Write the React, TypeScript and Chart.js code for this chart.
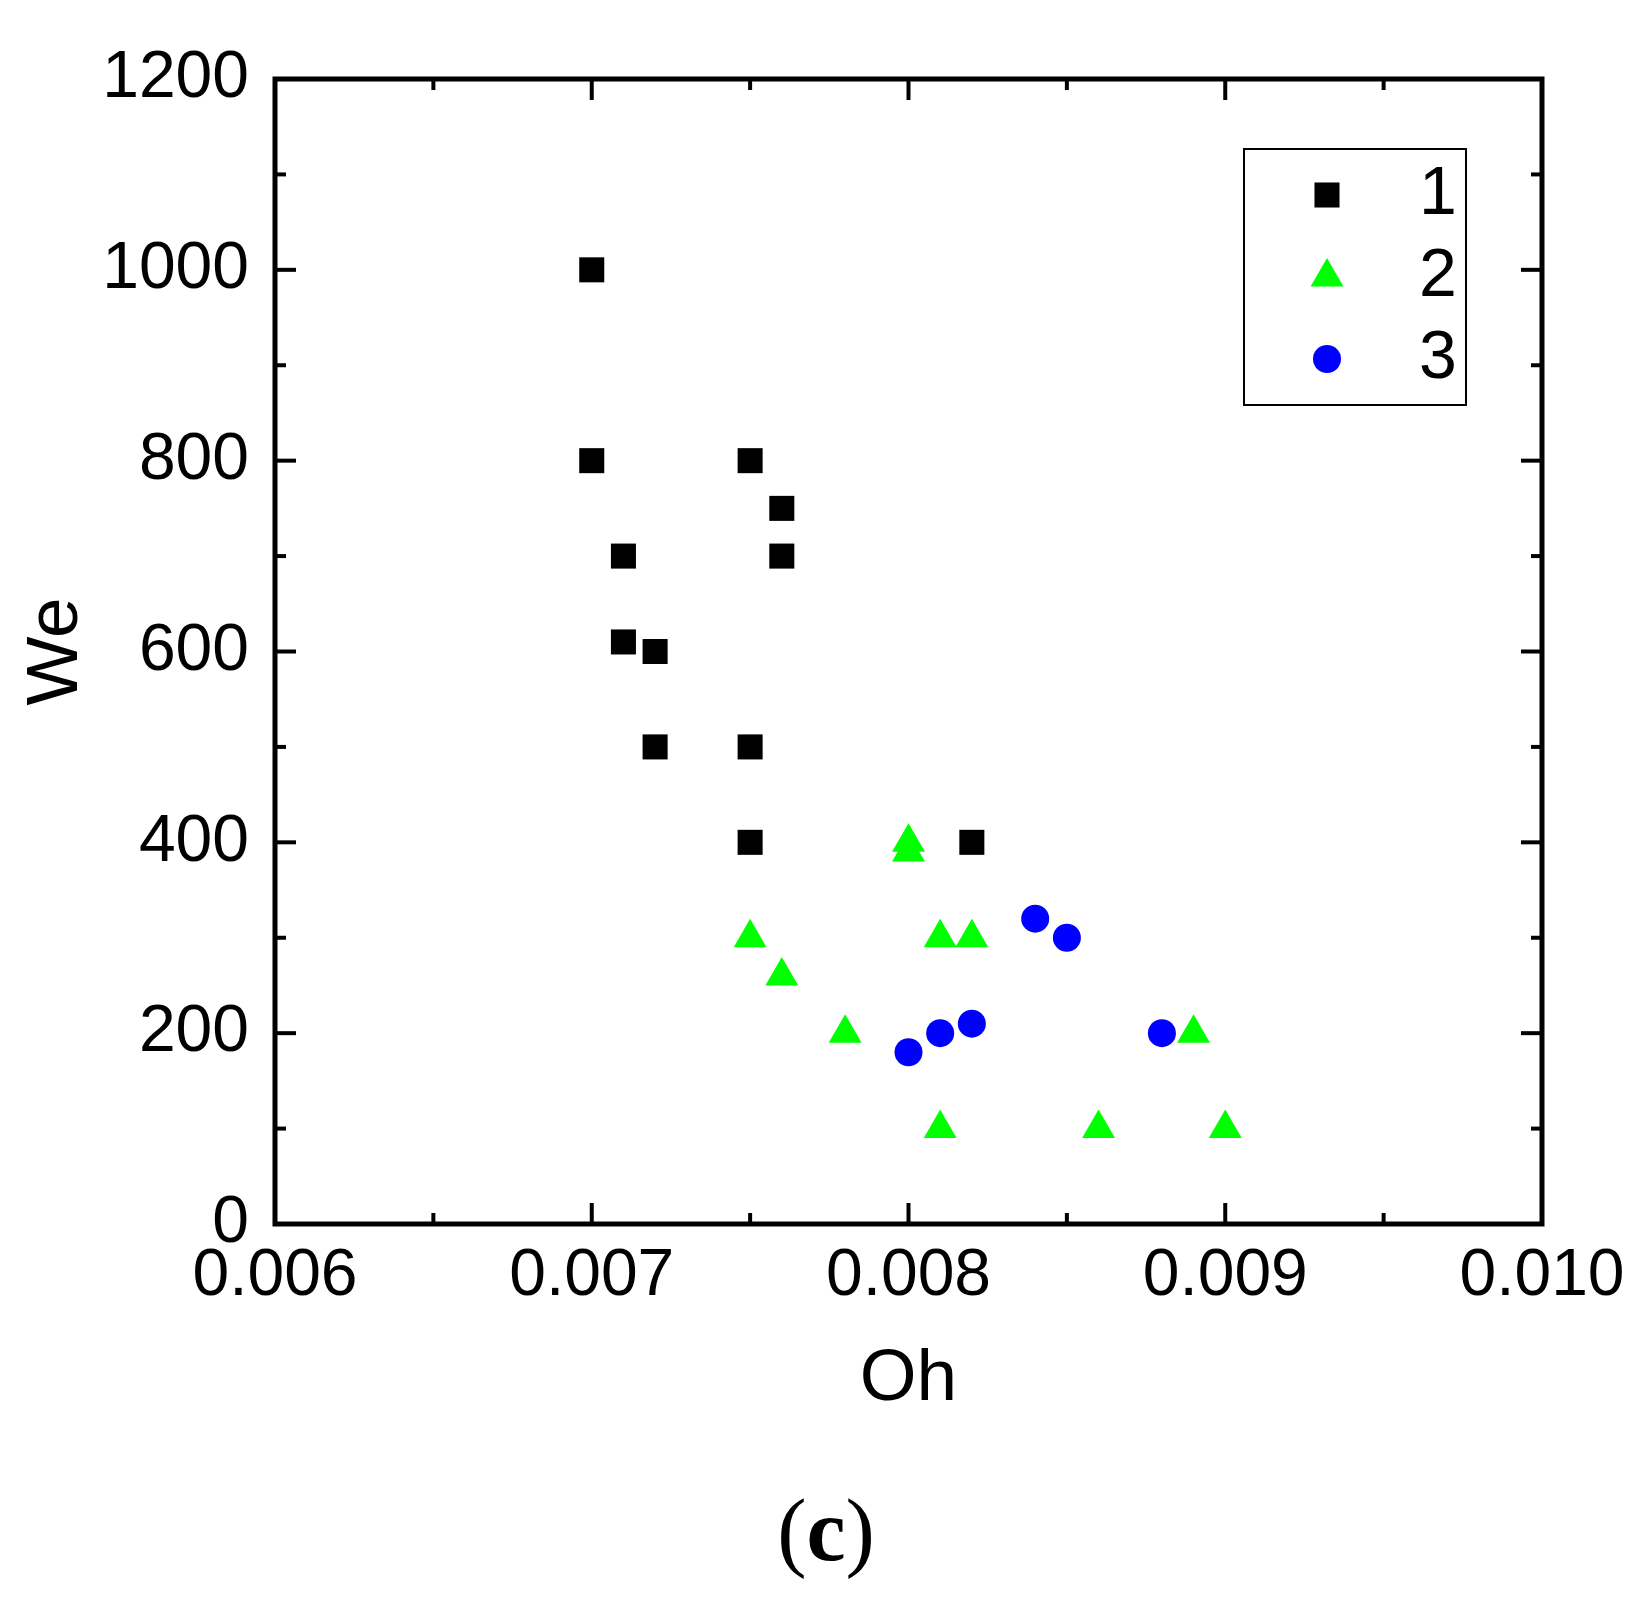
import { useEffect, useRef } from "react";
import { Chart, registerables } from "chart.js";

Chart.register(...registerables);

// series 1: black squares
const series1Oh = [0.007, 0.007, 0.0071, 0.0071, 0.0072, 0.0072, 0.0075, 0.0076, 0.0076, 0.0075, 0.0075, 0.0082];
const series1We = [1000, 800, 700, 610, 600, 500, 800, 750, 700, 500, 400, 400];
// series 2: green triangles
const series2Oh = [0.0075, 0.0076, 0.0078, 0.008, 0.008, 0.0081, 0.0082, 0.0081, 0.0086, 0.0089, 0.009];
const series2We = [300, 260, 200, 400, 390, 300, 300, 100, 100, 200, 100];
// series 3: blue circles
const series3Oh = [0.008, 0.0081, 0.0082, 0.0084, 0.0085, 0.0088];
const series3We = [180, 200, 210, 320, 300, 200];

const seriesLabels = ["1", "2", "3"];

const W = 1652;
const H = 1612;
const SANS = "'Liberation Sans', Arial, sans-serif";
const SERIF = "'Liberation Serif', 'Times New Roman', serif";

const toPoints = (xs: number[], ys: number[]) => xs.map((x, i) => ({ x, y: ys[i] }));

function drawMarker(ctx: CanvasRenderingContext2D, style: string, x: number, y: number, r: number, color: string) {
  ctx.fillStyle = color;
  ctx.beginPath();
  if (style === "rect") {
    const s = Math.SQRT1_2 * r;
    ctx.rect(x - s, y - s, 2 * s, 2 * s);
  } else if (style === "triangle") {
    let rad = 0;
    ctx.moveTo(x + Math.sin(rad) * r, y - Math.cos(rad) * r);
    rad += (2 * Math.PI) / 3;
    ctx.lineTo(x + Math.sin(rad) * r, y - Math.cos(rad) * r);
    rad += (2 * Math.PI) / 3;
    ctx.lineTo(x + Math.sin(rad) * r, y - Math.cos(rad) * r);
    ctx.closePath();
  } else {
    ctx.arc(x, y, r, 0, Math.PI * 2);
  }
  ctx.fill();
}

// inward ticks on all four sides, the frame, the legend box and the caption
const framePlugin = {
  id: "frameTicks",
  afterDraw(chart: any) {
    const { ctx, chartArea: a, scales } = chart;
    const xs = scales.x;
    const ys = scales.y;
    const MAJOR = 21;
    const MINOR = 11;

    ctx.save();
    ctx.strokeStyle = "#000";
    ctx.lineCap = "butt";
    ctx.lineWidth = 4;

    const line = (x1: number, y1: number, x2: number, y2: number) => {
      ctx.beginPath();
      ctx.moveTo(x1, y1);
      ctx.lineTo(x2, y2);
      ctx.stroke();
    };

    const xv = xs.ticks.map((t: any) => t.value);
    xv.forEach((v: number, i: number) => {
      const px = xs.getPixelForValue(v);
      line(px, a.bottom, px, a.bottom - MAJOR);
      line(px, a.top, px, a.top + MAJOR);
      if (i < xv.length - 1) {
        const pm = xs.getPixelForValue((v + xv[i + 1]) / 2);
        line(pm, a.bottom, pm, a.bottom - MINOR);
        line(pm, a.top, pm, a.top + MINOR);
      }
    });

    const yv = ys.ticks.map((t: any) => t.value);
    yv.forEach((v: number, i: number) => {
      const py = ys.getPixelForValue(v);
      line(a.left, py, a.left + MAJOR, py);
      line(a.right, py, a.right - MAJOR, py);
      if (i < yv.length - 1) {
        const pm = ys.getPixelForValue((v + yv[i + 1]) / 2);
        line(a.left, pm, a.left + MINOR, pm);
        line(a.right, pm, a.right - MINOR, pm);
      }
    });

    ctx.lineWidth = 5;
    ctx.strokeRect(a.left, a.top, a.right - a.left, a.bottom - a.top);

    // legend
    ctx.lineWidth = 2;
    ctx.strokeRect(1244, 149, 222, 256);
    ctx.font = `68px ${SANS}`;
    ctx.textBaseline = "middle";
    ctx.textAlign = "left";
    chart.data.datasets.forEach((ds: any, i: number) => {
      const cy = 195 + i * 82;
      drawMarker(ctx, ds.pointStyle, 1327, cy, ds.pointRadius, ds.backgroundColor);
      ctx.fillStyle = "#000";
      ctx.fillText(ds.label, 1419, cy);
    });

    // caption "(c)"
    ctx.textBaseline = "alphabetic";
    const regular = `88px ${SERIF}`;
    const bold = `bold 88px ${SERIF}`;
    ctx.font = regular;
    const wp = ctx.measureText("(").width;
    const wq = ctx.measureText(")").width;
    ctx.font = bold;
    const wc = ctx.measureText("c").width;
    let cx = W / 2 - (wp + wc + wq) / 2;
    const base = 1560;
    ctx.fillStyle = "#000";
    ctx.font = regular;
    ctx.fillText("(", cx, base);
    cx += wp;
    ctx.font = bold;
    ctx.fillText("c", cx, base);
    cx += wc;
    ctx.font = regular;
    ctx.fillText(")", cx, base);

    ctx.restore();
  },
};

export default function App() {
  const canvasRef = useRef<HTMLCanvasElement | null>(null);

  useEffect(() => {
    if (!canvasRef.current) return;

    const chart = new Chart(canvasRef.current, {
      type: "scatter",
      data: {
        datasets: [
          {
            label: seriesLabels[0],
            data: toPoints(series1Oh, series1We),
            pointStyle: "rect",
            pointRadius: 17.7,
            backgroundColor: "#000000",
            borderWidth: 0,
          },
          {
            label: seriesLabels[1],
            data: toPoints(series2Oh, series2We),
            pointStyle: "triangle",
            pointRadius: 19,
            backgroundColor: "#00ff00",
            borderWidth: 0,
          },
          {
            label: seriesLabels[2],
            data: toPoints(series3Oh, series3We),
            pointStyle: "circle",
            pointRadius: 14,
            backgroundColor: "#0000ff",
            borderWidth: 0,
          },
        ],
      },
      options: {
        animation: false,
        responsive: false,
        events: [],
        layout: { padding: { top: 79, right: 110, left: 0, bottom: 0 } },
        plugins: {
          legend: { display: false },
          tooltip: { enabled: false },
        },
        scales: {
          x: {
            type: "linear",
            position: "bottom",
            min: 0.006,
            max: 0.01,
            grid: { display: false, drawTicks: false },
            border: { display: false },
            ticks: {
              stepSize: 0.001,
              autoSkip: false,
              maxRotation: 0,
              padding: 13,
              color: "#000",
              font: { family: SANS, size: 66 },
              callback: (v: any) => Number(v).toFixed(3),
            },
            title: {
              display: true,
              text: "Oh",
              color: "#000",
              font: { family: SANS, size: 73 },
              padding: { top: 0, bottom: 188 },
            },
            afterFit: (s: any) => {
              s.height = 388;
            },
          },
          y: {
            type: "linear",
            min: 0,
            max: 1200,
            grid: { display: false, drawTicks: false },
            border: { display: false },
            ticks: {
              stepSize: 200,
              padding: 26,
              color: "#000",
              font: { family: SANS, size: 66 },
              callback: (v: any) => String(Math.round(Number(v))),
            },
            title: {
              display: true,
              text: "We",
              color: "#000",
              font: { family: SANS, size: 73 },
              padding: { top: 13, bottom: 0 },
            },
            afterFit: (s: any) => {
              s.width = 275;
            },
          },
        },
      },
      plugins: [framePlugin],
    });

    return () => chart.destroy();
  }, []);

  return (
    <div style={{ position: "absolute", left: 0, top: 0, width: W, height: H, background: "#fff" }}>
      <canvas ref={canvasRef} width={W} height={H} style={{ width: W, height: H, display: "block" }} />
    </div>
  );
}
